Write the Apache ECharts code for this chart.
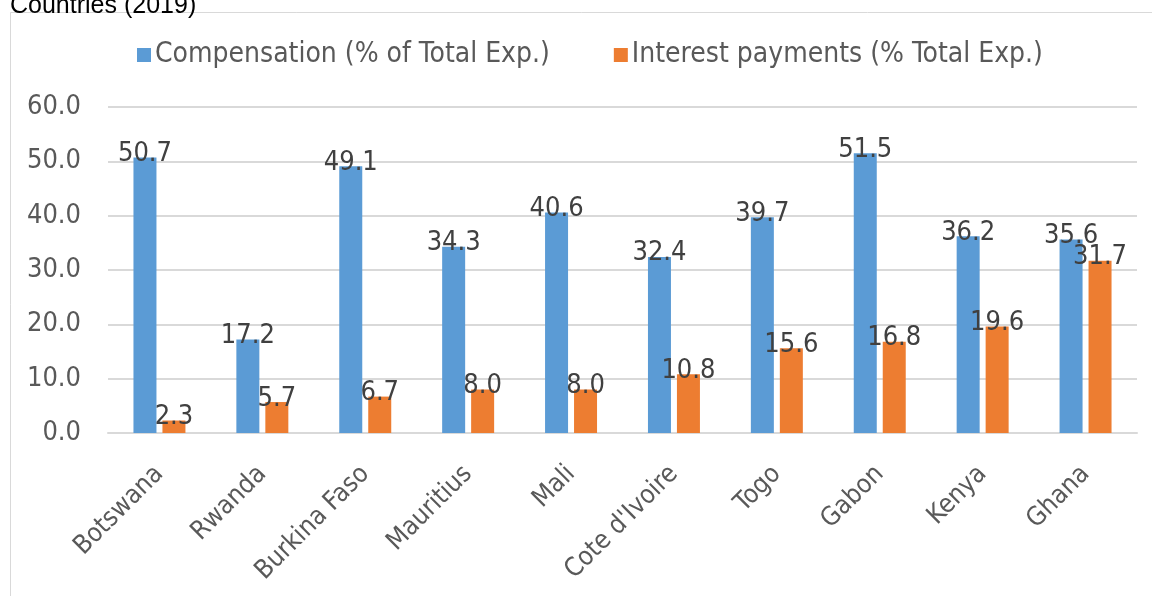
<!DOCTYPE html>
<html>
<head>
<meta charset="utf-8">
<script src="https://cdn.jsdelivr.net/npm/echarts@6/dist/echarts.min.js"></script>
<style>
html,body{margin:0;padding:0;background:#fff;}
#chart{width:1152px;height:596px;}
</style>
</head>
<body>
<div id="chart"></div>
<script>
const categories = ['Botswana','Rwanda','Burkina Faso','Mauritius','Mali',"Cote d'Ivoire",'Togo','Gabon','Kenya','Ghana'];
const compensation = [50.7,17.2,49.1,34.3,40.6,32.4,39.7,51.5,36.2,35.6];
const interest = [2.3,5.7,6.7,8.0,8.0,10.8,15.6,16.8,19.6,31.7];
const seriesNames = ['Compensation (% of Total Exp.)','Interest payments (% Total Exp.)'];
const titleText = 'Countries (2019)';

const FONT = '"DejaVu Sans Condensed", "DejaVu Sans"';
const chart = echarts.init(document.getElementById('chart'));
const labelCfg = {
  show: true, position: 'top', distance: -10,
  color: '#404040', fontFamily: FONT, fontSize: 27,
  formatter: p => p.value.toFixed(1)
};
chart.setOption({
  animation: false,
  backgroundColor: '#fff',
  graphic: [
    {type:'rect', shape:{x:10.5,y:12.5,width:1200,height:700}, style:{fill:'none',stroke:'#d9d9d9',lineWidth:1}, silent:true},
    {type:'text', x: 10, y: 19, style:{text: titleText, fill:'#000', font:'25px "Liberation Sans"', verticalAlign:'bottom', align:'left'}}
  ],
  legend: {
    left: 132, top: 36, itemWidth: 14, itemHeight: 14, itemGap: 64,
    icon: 'rect',
    textStyle: {color:'#595959', fontFamily: FONT, fontSize: 28, padding:[0,0,0,-1]},
    data: seriesNames
  },
  grid: {left:108, right:15, top:107, bottom:163, containLabel:false},
  xAxis: {
    type:'category', data: categories,
    axisLine:{lineStyle:{color:'#d9d9d9', width:2}},
    axisTick:{show:false},
    axisLabel:{rotate:45, color:'#595959', fontFamily:FONT, fontSize:26, margin:37, interval:0}
  },
  yAxis: {
    type:'value', min:0, max:60, interval:10,
    axisLine:{show:false}, axisTick:{show:false},
    axisLabel:{color:'#595959', fontFamily:FONT, fontSize:27, margin:27, formatter: v => v.toFixed(1)},
    splitLine:{lineStyle:{color:'#d9d9d9', width:2}}
  },
  series: [
    {name: seriesNames[0], type:'bar', data: compensation, barWidth:23, barGap:'26%', itemStyle:{color:'#5B9BD5'}, label: labelCfg},
    {name: seriesNames[1], type:'bar', data: interest, barWidth:23, barGap:'26%', itemStyle:{color:'#ED7D31'}, label: labelCfg}
  ]
});
</script>
</body>
</html>
